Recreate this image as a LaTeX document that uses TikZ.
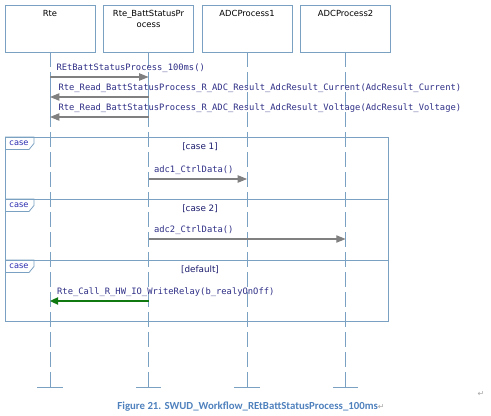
\documentclass[tikz,border=0pt]{standalone}
\usepackage{fontspec}
\usepackage{xcolor}
\usepackage{tikz}
\usetikzlibrary{arrows.meta,positioning}

\newfontfamily\headfont{DejaVu Sans}
\newfontfamily\msgfont{DejaVu Sans Mono}
\newfontfamily\capfont{Carlito}

\definecolor{frameblue}{HTML}{7BA1C2}
\definecolor{msgtext}{HTML}{2E2E86}
\definecolor{guardtext}{HTML}{1C1C6E}
\definecolor{tabtext}{HTML}{2B2BB0}
\definecolor{msggray}{HTML}{808080}
\definecolor{relaygreen}{HTML}{107A10}
\definecolor{captionblue}{HTML}{4F81BD}
\definecolor{markgray}{HTML}{A6A6A6}

\begin{document}
\begin{tikzpicture}[
    x=0.75pt, y=-0.75pt,
    head/.style={rectangle, draw=frameblue, minimum width=67.5pt, minimum height=35.25pt, inner sep=0pt},
    headtxt/.style={anchor=north, inner sep=0pt, yshift=-4pt, align=center, font=\headfont\fontsize{6.3}{8}\selectfont},
    life/.style={draw=frameblue, dash pattern=on 11pt off 4pt},
    msg/.style={draw=msggray, line width=0.8pt, -{Triangle[length=7pt,width=5.5pt]}},
    msgtxt/.style={inner sep=0pt, font=\msgfont\fontsize{6.6}{8}\selectfont, text=msgtext},
    frame/.style={draw=frameblue, line width=0.6pt},
    guard/.style={font=\headfont\fontsize{6.6}{8}\selectfont, text=guardtext},
    tab/.style={font=\headfont\fontsize{6.2}{8}\selectfont, text=tabtext, inner sep=0pt}
]
\useasboundingbox (0,0) rectangle (491,416);

\node[head, label={[headtxt]north:Rte}] (rte) at (50,28.5) {};
\node[head, right=6pt of rte, label={[headtxt]north:Rte\_BattStatusPr\\ocess}] (batt) {};
\node[head, right=6pt of batt, label={[headtxt]north:ADCProcess1}] (adc1) {};
\node[head, right=6pt of adc1, label={[headtxt]north:ADCProcess2}] (adc2) {};

\foreach \n in {rte,batt,adc1,adc2} {
  \draw[life] (\n.south) -- (\n.south |- 0,387) coordinate (\n-end);
  \draw[frameblue] ([xshift=-9.5pt]\n-end) -- ([xshift=9.5pt]\n-end);
}

\coordinate (rte-a) at (rte |- 0,77);
\coordinate (rte-b) at (rte |- 0,117);
\coordinate (batt-a) at (batt |- 0,77);
\coordinate (batt-b) at (batt |- 0,117);
\draw[frameblue] (rte-a) -- (rte-b);
\draw[frameblue] (batt-a) -- (batt-b);

\draw[msg] (rte-a) -- (batt-a)
  node[msgtxt, pos=0, anchor=south west, xshift=4.5pt, yshift=3pt] (m1) {REtBattStatusProcess\_100ms()};
\draw[msg] (batt |- 0,97) -- (rte |- 0,97)
  node[msgtxt, pos=1, anchor=south west, xshift=6pt, yshift=3pt] (m2) {Rte\_Read\_BattStatusProcess\_R\_ADC\_Result\_AdcResult\_Current(AdcResult\_Current)};
\draw[msg] (batt-b) -- (rte-b)
  node[msgtxt, pos=1, anchor=south west, xshift=6pt, yshift=3pt] (m3) {Rte\_Read\_BattStatusProcess\_R\_ADC\_Result\_AdcResult\_Voltage(AdcResult\_Voltage)};

\draw[frame] (5,137) rectangle (388,199);
\draw[frame] (5,199) rectangle (388,260);
\draw[frame] (5,260) rectangle (388,321);
\foreach \t/\g [count=\i] in {137/{[case 1]}, 199/{[case 2]}, 260/{[default]}} {
  \draw[frame] (5,\t) -- (34,\t) -- (34,\t+6.5) -- (29,\t+12.5) -- (5,\t+12.5);
  \node[tab] (tab\i) at (19,\t+6) {case};
  \node[guard] (guard\i) at (200,\t+10) {\g};
}

\draw[msg] (batt |- 0,179) -- (adc1 |- 0,179)
  node[msgtxt, pos=0, anchor=south west, xshift=3.75pt, yshift=3pt] (m4) {adc1\_CtrlData()};
\draw[msg] (batt |- 0,239) -- (adc2 |- 0,239)
  node[msgtxt, pos=0, anchor=south west, xshift=3.75pt, yshift=3pt] (m5) {adc2\_CtrlData()};
\draw[msg, draw=relaygreen, -{Triangle[length=6pt,width=5.5pt]}] (batt |- 0,301) -- (rte |- 0,301)
  node[msgtxt, pos=1, anchor=south west, xshift=5pt, yshift=3pt] (m6) {Rte\_Call\_R\_HW\_IO\_WriteRelay(b\_realyOnOff)};

\node[font=\capfont\bfseries\fontsize{8.1}{10}\selectfont, text=captionblue] (cap) at (251,407)
  {Figure 21. SWUD\_Workflow\_REtBattStatusProcess\_100ms{\headfont\mdseries\color{markgray}\fontsize{6}{8}\selectfont ↵}};
\node[font=\headfont\fontsize{6}{8}\selectfont, text=markgray] (mark) at (481,394) {↵};
\end{tikzpicture}
\end{document}
